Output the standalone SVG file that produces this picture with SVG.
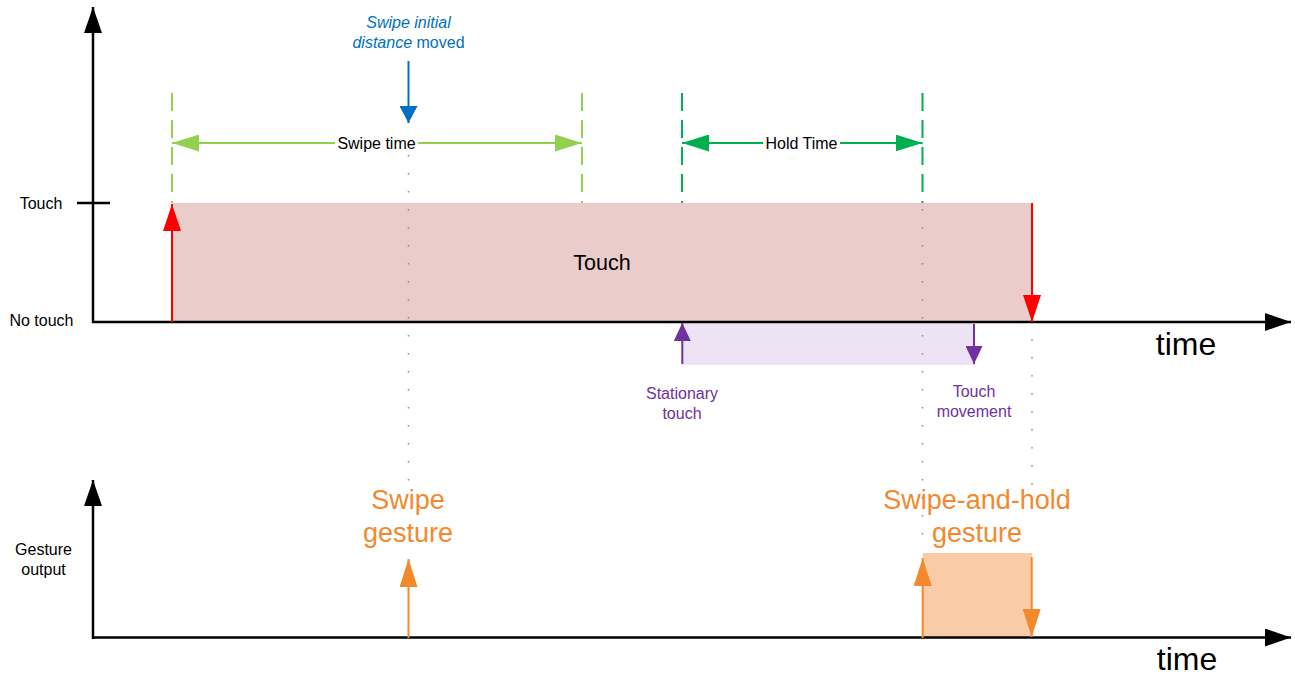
<svg xmlns="http://www.w3.org/2000/svg" width="1295" height="675" viewBox="0 0 1295 675">
<style>
text{font-family:"Liberation Sans",Arial,sans-serif}
.lbl{font-size:16px;fill:#000}
.axis{stroke:#000;stroke-width:2.5;fill:none}
.dots{stroke:#8a8a8a;stroke-width:1.5;stroke-dasharray:1.5 16.5;fill:none}
.lg{stroke:#92D050;stroke-width:2;fill:none}
.dg{stroke:#00B050;stroke-width:2;fill:none}
.dash{stroke-dasharray:18 9}
.red{stroke:#FF0000;stroke-width:2;fill:none}
.pur{stroke:#7030A0;stroke-width:2;fill:none}
.org{stroke:#F4892C;stroke-width:2;fill:none}
.blu{stroke:#0070C0;stroke-width:2;fill:none}
.otext{font-size:27px;fill:#F4892C}
.ptext{font-size:16px;fill:#7030A0}
</style>
<defs>
<marker id="mBlack" markerUnits="userSpaceOnUse" markerWidth="26" markerHeight="18" refX="26" refY="9" orient="auto"><path d="M0,0 L26,9 L0,18 Z" fill="#000"/></marker>
<marker id="mRed" markerUnits="userSpaceOnUse" markerWidth="27" markerHeight="18" refX="27" refY="9" orient="auto"><path d="M0,0 L27,9 L0,18 Z" fill="#FF0000"/></marker>
<marker id="mPur" markerUnits="userSpaceOnUse" markerWidth="18" markerHeight="17" refX="18" refY="8.5" orient="auto"><path d="M0,0 L18,8.5 L0,17 Z" fill="#7030A0"/></marker>
<marker id="mOrg" markerUnits="userSpaceOnUse" markerWidth="28" markerHeight="18" refX="28" refY="9" orient="auto"><path d="M0,0 L28,9 L0,18 Z" fill="#F4892C"/></marker>
<marker id="mBlu" markerUnits="userSpaceOnUse" markerWidth="17" markerHeight="18" refX="17" refY="9" orient="auto"><path d="M0,0 L17,9 L0,18 Z" fill="#0070C0"/></marker>
<marker id="mLgE" markerUnits="userSpaceOnUse" markerWidth="27" markerHeight="17" refX="27" refY="8.5" orient="auto"><path d="M0,0 L27,8.5 L0,17 Z" fill="#92D050"/></marker>
<marker id="mLgS" markerUnits="userSpaceOnUse" markerWidth="27" markerHeight="17" refX="0" refY="8.5" orient="auto"><path d="M27,0 L0,8.5 L27,17 Z" fill="#92D050"/></marker>
<marker id="mDgE" markerUnits="userSpaceOnUse" markerWidth="27" markerHeight="17" refX="27" refY="8.5" orient="auto"><path d="M0,0 L27,8.5 L0,17 Z" fill="#00B050"/></marker>
<marker id="mDgS" markerUnits="userSpaceOnUse" markerWidth="27" markerHeight="17" refX="0" refY="8.5" orient="auto"><path d="M27,0 L0,8.5 L27,17 Z" fill="#00B050"/></marker>
</defs>
<rect width="1295" height="675" fill="#fff"/>

<g id="touch-region">
<rect x="172" y="203" width="860" height="119" fill="#EACDCA"/>
<text x="602" y="270" font-size="21.5" text-anchor="middle">Touch</text>
</g>
<g id="stationary-region">
<rect x="682" y="322" width="292" height="43" fill="#EEE3F5"/>
</g>
<g id="swipe-hold-region">
<rect x="923" y="553" width="109" height="85" fill="#F9CBA6"/>
</g>

<g id="dotted-guides">
<line class="dots" x1="408.5" y1="155" x2="408.5" y2="483"/>
<line class="dots" x1="922.5" y1="209" x2="922.5" y2="537"/>
<line class="dots" x1="1032" y1="339" x2="1032" y2="487"/>
</g>

<g id="axes">
<line class="axis" x1="93" y1="323" x2="93" y2="7" marker-end="url(#mBlack)"/>
<line class="axis" x1="92" y1="322" x2="1291" y2="322" marker-end="url(#mBlack)"/>
<line class="axis" x1="77" y1="203" x2="110" y2="203"/>
<line class="axis" x1="93" y1="639" x2="93" y2="480" marker-end="url(#mBlack)"/>
<line class="axis" x1="92" y1="637.5" x2="1291" y2="637.5" marker-end="url(#mBlack)"/>
</g>

<g id="axis-labels">
<text class="lbl" x="41" y="209" text-anchor="middle">Touch</text>
<text class="lbl" x="41.5" y="326" text-anchor="middle">No touch</text>
<text class="lbl" x="43.5" y="555" text-anchor="middle">Gesture</text>
<text class="lbl" x="43.5" y="575" text-anchor="middle">output</text>
<text x="1186" y="355" font-size="32" text-anchor="middle">time</text>
<text x="1187" y="670" font-size="32" text-anchor="middle">time</text>
</g>

<g id="swipe-time">
<line class="lg dash" x1="172" y1="93" x2="172" y2="203"/>
<line class="lg dash" x1="582" y1="93" x2="582" y2="203"/>
<line class="lg" x1="172" y1="143" x2="582" y2="143" marker-start="url(#mLgS)" marker-end="url(#mLgE)"/>
<rect x="335" y="133" width="83" height="20" fill="#fff"/>
<text class="lbl" x="376.5" y="149" text-anchor="middle">Swipe time</text>
</g>

<g id="hold-time">
<line class="dg dash" x1="682" y1="93" x2="682" y2="203"/>
<line class="dg dash" x1="922.5" y1="93" x2="922.5" y2="203"/>
<line class="dg" x1="682" y1="143" x2="922.5" y2="143" marker-start="url(#mDgS)" marker-end="url(#mDgE)"/>
<rect x="763" y="133" width="77" height="20" fill="#fff"/>
<text class="lbl" x="801.5" y="149" text-anchor="middle">Hold Time</text>
</g>

<g id="swipe-initial-distance">
<line class="blu" x1="408.5" y1="61" x2="408.5" y2="123" marker-end="url(#mBlu)"/>
<text x="408.5" y="28" font-size="16" fill="#0070C0" text-anchor="middle" font-style="italic">Swipe initial</text>
<text x="408.5" y="48" font-size="16" fill="#0070C0" text-anchor="middle"><tspan font-style="italic">distance</tspan> moved</text>
</g>

<g id="connectors">
<line class="red" x1="172" y1="322" x2="172" y2="204" marker-end="url(#mRed)"/>
<line class="red" x1="1032" y1="203" x2="1032" y2="322" marker-end="url(#mRed)"/>
<line class="pur" x1="682.3" y1="364" x2="682.3" y2="323" marker-end="url(#mPur)"/>
<line class="pur" x1="974" y1="324" x2="974" y2="364" marker-end="url(#mPur)"/>
<line class="org" x1="408.5" y1="638" x2="408.5" y2="559" marker-end="url(#mOrg)"/>
<line class="org" x1="922.7" y1="638" x2="922.7" y2="558" marker-end="url(#mOrg)"/>
<line class="org" x1="1031.7" y1="557" x2="1031.7" y2="637" marker-end="url(#mOrg)"/>
</g>

<g id="stationary-touch-label">
<text class="ptext" x="682" y="399" text-anchor="middle">Stationary</text>
<text class="ptext" x="682" y="419" text-anchor="middle">touch</text>
</g>
<g id="touch-movement-label">
<text class="ptext" x="974" y="397" text-anchor="middle">Touch</text>
<text class="ptext" x="974" y="417" text-anchor="middle">movement</text>
</g>

<g id="swipe-gesture">
<text class="otext" x="408" y="509" text-anchor="middle">Swipe</text>
<text class="otext" x="408" y="542" text-anchor="middle">gesture</text>
</g>
<g id="swipe-and-hold-gesture">
<text class="otext" x="977" y="509" text-anchor="middle">Swipe-and-hold</text>
<text class="otext" x="977" y="542" text-anchor="middle">gesture</text>
</g>
</svg>
